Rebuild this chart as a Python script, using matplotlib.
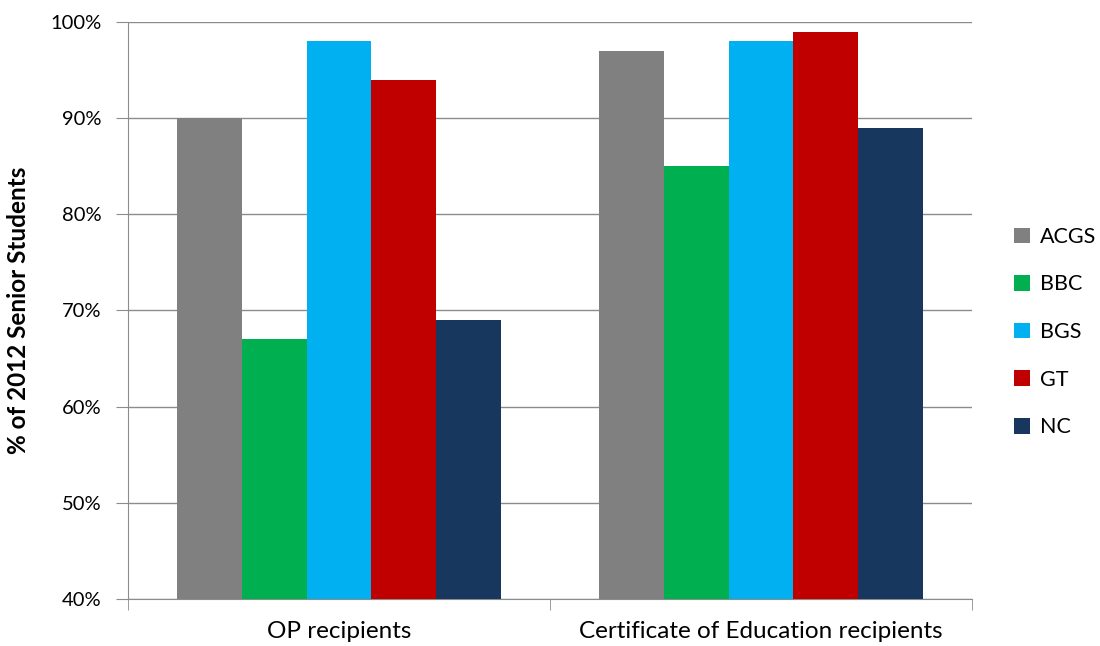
import matplotlib
matplotlib.use('Agg')
import matplotlib.pyplot as plt
import numpy as np

plt.rcParams['font.family'] = ['Lato', 'DejaVu Sans']

categories = ['OP recipients', 'Certificate of Education recipients']
schools = ['ACGS', 'BBC', 'BGS', 'GT', 'NC']
values = {
    'ACGS': [90, 97],
    'BBC': [67, 85],
    'BGS': [98, 98],
    'GT': [94, 99],
    'NC': [69, 89],
}
colors = ['#808080', '#00B050', '#00B0F0', '#C00000', '#17375E']

fig = plt.figure(figsize=(11, 6.46), dpi=100)
ax = fig.add_axes([0.1164, 0.0728, 0.7672, 0.8931])

x = np.arange(len(categories))
w = 0.1536
for i, s in enumerate(schools):
    ax.bar(x + (i - 2) * w, values[s], width=w, color=colors[i], label=s, zorder=3)

ax.set_xlim(-0.5, 1.5)
ax.set_ylim(40, 100)
ax.set_yticks(range(40, 101, 10))
ax.set_yticklabels([f'{v}%' for v in range(40, 101, 10)], fontsize=14.5)
ax.yaxis.grid(True, color='#8c8c8c', lw=1.0, zorder=0)
ax.set_xticks(x)
ax.set_xticklabels(categories, fontsize=17.5)
ax.set_xticks([-0.5, 0.5, 1.5], minor=True)
ax.tick_params(axis='x', which='major', length=0, pad=16)
ax.tick_params(axis='x', which='minor', length=8, color='#8c8c8c')
ax.tick_params(axis='y', length=9, color='#8c8c8c', pad=10)
for sp in ['top', 'right']:
    ax.spines[sp].set_visible(False)
for sp in ['left', 'bottom']:
    ax.spines[sp].set_color('#8c8c8c')
ax.set_ylabel('% of 2012 Senior Students', fontsize=17.5, fontweight='bold')
ax.yaxis.set_label_coords(-0.116, 0.50)

fig.legend(loc='center left', bbox_to_anchor=(0.904, 0.486), frameon=False,
           fontsize=15.5, handlelength=0.75, handleheight=0.75, handletextpad=0.45,
           labelspacing=1.28)

plt.savefig('out.png', dpi=100)
